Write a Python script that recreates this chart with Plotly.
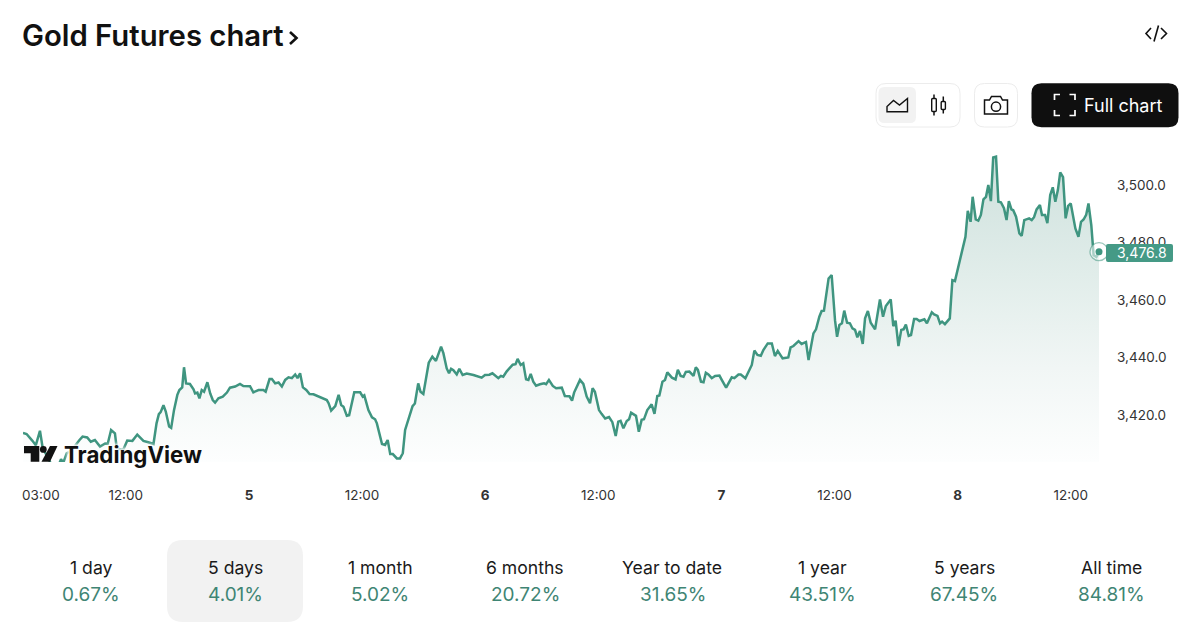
import plotly.graph_objects as go

# ---- data ----
bar_pos = [0,1.4,3.6,5,6.6,7.7,9.2,11.2,12.7,14.8,15.7,17,19,22,23.2,25,26.4,28,30,32,33,34.3,35.8,36.5,39,40.6,42.6,44.5,46.9,48.8,50.8,52,52.9,53.6,54.7,55.6,56.9,57.7,58.8,60.1,60.9,62,62.7,63.5,65,66.4,67,67.9,68.7,69.6,70.5,71.8,72.9,73.9,74.8,76.1,77.8,79.4,80.6,82.6,84.5,85.8,88.4,89.7,91.7,93.6,94.5,96,96.9,98.2,99.5,100.8,102.1,103.4,104.7,106,106.9,107.9,109,110.3,111.6,113.1,115.7,118.3,119,120,121.6,122.9,123.9,124.8,126.1,127,129,130.6,131.3,132.3,132.9,134.5,135.9,137.1,137.8,139.8,141,142,143,144,145.6,146.8,147.9,148.8,150,151.7,152.6,153.9,154.8,155.9,158,159.4,160.8,162.8,163.7,165,165.9,166.7,167.6,168.9,169.9,171.2,172.8,175.4,178.6,179.9,181.6,182.8,185.1,186.1,187,188.3,190.7,191.8,192.6,193.8,194.8,195.9,196.8,197.7,198.7,199.8,201.3,202.9,203.7,204.8,206.3,207.6,209.8,211,212.8,213.8,214.6,216.9,218.2,219.5,220.8,221.8,222.7,224.3,225.3,226.7,228.2,229.5,230.8,231.8,232.7,233.8,235.1,236,236.8,238.7,239.8,240.9,241.8,243.1,244.8,245.9,247,247.8,249,250,250.9,252.7,254.1,255,256.1,257.2,258.1,259.5,261.1,262,262.8,264,265,265.9,266.9,268.2,269.5,271.2,272.1,273.8,276,277,278.6,279.5,281.3,283.8,284.8,286,287.3,288.3,290,291.6,292.8,293.9,295.8,298,298.9,300,302,303.2,304.9,305.9,307.8,308.8,310.1,311,311.9,313.7,314.9,316.2,317,317.9,318.9,319.8,320.9,322,323,324,324.9,325.9,327,327.9,329,330.1,331.8,333.7,334.9,336,337.9,338.9,339.8,340.9,342,342.9,343.8,344.9,345.8,347,348,349.1,351,352,353.9,354.8,356.1,357.1,357.9,359,360.9,361.9,362.9,363.6,365.9,367,367.9,369,369.8,371,372,373,374,375,375.9,376.9,377.8,378.9,379.8,380.8,382,383,383.9,384.9,385.6,386.7,388,388.9,389.9,391.8,392.8,393.7,394.7,396,396.8,398,398.9,400,401,402,403,403.9,405,406,407,408,409.8,411,412,413,414,414.9,416,416.9,418,419]
price = [3413.8,3413.4,3411.1,3409.5,3414.5,3408.4,3406,3402.6,3399.9,3404.6,3403.4,3406.7,3407.8,3411.3,3412.5,3412.2,3410.7,3411.3,3409,3410.1,3410,3414.8,3413.6,3408.4,3407.8,3411.1,3411,3413.2,3411,3410.5,3409.9,3417.1,3420.3,3421,3423.4,3421.2,3416,3415.5,3421.7,3427,3428.7,3429.6,3436.6,3431,3430.8,3428.9,3427.5,3427.8,3425.8,3428.7,3428.1,3431.4,3427.5,3425.2,3424.3,3425.8,3426.4,3427.8,3429.5,3429.9,3430.8,3430.1,3430,3427.9,3428.7,3428.7,3428.1,3432.5,3432.5,3431,3431.3,3429.9,3432.2,3433.1,3432.8,3434.1,3432.8,3434.5,3429.6,3428.7,3427.3,3427.2,3426.1,3425.2,3424.1,3421.5,3423.1,3427,3423.5,3422.9,3419.7,3419.9,3427.9,3427.8,3427.9,3426.4,3426.8,3421.7,3419.2,3418.5,3417.1,3409.9,3409.6,3411.3,3406.4,3406.4,3404.9,3404.9,3406.7,3414.8,3418.3,3423.1,3424,3431,3428.1,3427.3,3438.2,3440.3,3438.8,3443.8,3441.5,3436.2,3434.5,3436.1,3435.6,3434.1,3436.1,3433.9,3434.4,3433.9,3433,3433.9,3434,3434.5,3432.8,3433.6,3433.3,3435.1,3437.5,3437.7,3439.5,3437.4,3438,3432.4,3432.2,3434.3,3431.6,3430.2,3430.7,3431,3430.7,3432.2,3430.1,3429.3,3429.5,3426.6,3426.5,3425,3427.8,3432.2,3430.8,3426.4,3424.1,3429.3,3428.1,3421.7,3420.4,3418.8,3419.3,3417.5,3412.7,3417.7,3418,3415.4,3417.9,3418.5,3420.8,3419.7,3414.2,3418.3,3418.5,3421.7,3423.7,3420.4,3426.6,3426.8,3431.6,3432.2,3434.8,3433,3432.4,3435.7,3433.6,3433.3,3435,3435.1,3433.6,3436.6,3435.7,3431.6,3431.4,3434.7,3434.1,3432.8,3433.6,3433.7,3432.2,3429.5,3433.1,3432.8,3434.1,3434.1,3432.8,3437.4,3442.4,3440.9,3440.6,3442.6,3444.9,3444.9,3440.5,3442.3,3439.7,3440,3443.5,3444,3445.7,3444.7,3445.4,3439.1,3448.4,3449.8,3454.2,3456.2,3456.3,3467.5,3468.7,3453,3447.2,3451.3,3451.9,3456.3,3452.1,3451.9,3450.1,3449.6,3447,3449.2,3444.7,3453.6,3456.2,3452.1,3449.8,3460.2,3454.2,3457.9,3460.2,3450.9,3452.8,3444,3449.6,3449.8,3451.5,3447.5,3447.8,3453.4,3453.4,3452.7,3453.3,3451.9,3455.7,3455,3454.5,3451.9,3452.5,3451.6,3453.6,3466.9,3466.6,3469.3,3477.2,3482,3491,3487.2,3495.9,3488,3487.6,3489.6,3495,3495.9,3500,3494.4,3509.6,3509.9,3494.2,3494,3491.9,3487.8,3494.4,3491.5,3491.2,3489,3483.2,3482.3,3487.8,3488.4,3487.8,3488.8,3491.5,3493,3489.6,3489.6,3486.7,3496.5,3499.2,3494.2,3498.3,3504.4,3502.7,3488.4,3492.7,3493.6,3484.9,3482,3487.2,3488,3489.6,3493.6,3486,3475.6,3475,3476.8]
y_ticks = [3420, 3440, 3460, 3480, 3500]
y_tick_labels = ["3,420.0", "3,440.0", "3,460.0", "3,480.0", "3,500.0"]
x_ticks = [7, 40, 88, 132, 180, 224, 272, 316, 364, 408]
x_tick_labels = ["03:00", "12:00", "<b>5</b>", "12:00", "<b>6</b>", "12:00", "<b>7</b>", "12:00", "<b>8</b>", "12:00"]
last_label = "3,476.8"
periods = ["1 day", "5 days", "1 month", "6 months", "Year to date", "1 year", "5 years", "All time"]
changes = ["0.67%", "4.01%", "5.02%", "20.72%", "31.65%", "43.51%", "67.45%", "84.81%"]

W, H = 1200, 638
FONT = "Inter"
LINE = "#3f9580"
fx = lambda p: p / W
fy = lambda p: 1 - p / H


def P(*pts, close=True):
    s = "M" + " L".join(f"{fx(x):.5f},{fy(y):.5f}" for x, y in pts)
    return s + (" Z" if close else "")


def rrect(x0, y0, x1, y1, r):
    rx, ry = r / W, r / H
    a, b, c, d = fx(x0), fx(x1), fy(y0), fy(y1)
    return (f"M{a+rx:.5f},{c:.5f} L{b-rx:.5f},{c:.5f} Q{b:.5f},{c:.5f} {b:.5f},{c-ry:.5f} "
            f"L{b:.5f},{d+ry:.5f} Q{b:.5f},{d:.5f} {b-rx:.5f},{d:.5f} L{a+rx:.5f},{d:.5f} "
            f"Q{a:.5f},{d:.5f} {a:.5f},{d+ry:.5f} L{a:.5f},{c-ry:.5f} Q{a:.5f},{c:.5f} {a+rx:.5f},{c:.5f} Z")


shapes = []


def path(d, fill="rgba(0,0,0,0)", line=None, width=1.5, layer="above"):
    shapes.append(dict(type="path", xref="paper", yref="paper", path=d, fillcolor=fill,
                       line=dict(color=line or "rgba(0,0,0,0)", width=width if line else 0), layer=layer))


def circle(cx, cy, r, fill="rgba(0,0,0,0)", line=None, width=1.5):
    shapes.append(dict(type="circle", xref="paper", yref="paper", x0=fx(cx - r), x1=fx(cx + r),
                       y0=fy(cy + r), y1=fy(cy - r), fillcolor=fill,
                       line=dict(color=line or "rgba(0,0,0,0)", width=width if line else 0)))


# toolbar
path(rrect(876, 83.5, 960, 127, 10), "#ffffff", "#ececec", 1)
path(rrect(878.5, 87, 916, 123, 6), "#f2f2f2")
path(P((887, 111.7), (887, 106.5), (893.5, 100.5), (899.5, 105), (907.5, 98.5), (907.5, 111.7)), line="#111111", width=1.4)
for x, w0, w1, b0, b1, hw in [(934, 94.5, 115.5, 98.5, 111.5, 2.3), (943.3, 96.5, 113.5, 101.5, 109.5, 2.1)]:
    path(P((x, w0), (x, b0), close=False), line="#111111", width=1.5)
    path(P((x, b1), (x, w1), close=False), line="#111111", width=1.5)
    path(rrect(x - hw, b0, x + hw, b1, 1), line="#111111", width=1.4)
path(rrect(974.5, 83.5, 1017.5, 127, 10), "#ffffff", "#ececec", 1)
path(P((984.5, 100), (989.5, 100), (991.5, 96.5), (1000.5, 96.5), (1002.5, 100), (1007.5, 100), (1007.5, 114), (984.5, 114)), line="#111111", width=1.5)
circle(996, 106.7, 4.6, line="#111111", width=1.5)
path(rrect(1031.5, 83.3, 1178.5, 127.3, 10), "#0f0f0f")
for a, b, c in [((1054.5, 100), (1054.5, 94.5), (1060, 94.5)), ((1069.5, 94.5), (1075, 94.5), (1075, 100)),
                ((1075, 110), (1075, 115.5), (1069.5, 115.5)), ((1060, 115.5), (1054.5, 115.5), (1054.5, 110))]:
    path(P(a, b, c, close=False), line="#ffffff", width=1.7)
# embed icon
path(P((1151, 28), (1146, 33.5), (1151, 39), close=False), line="#111111", width=1.6)
path(P((1161, 28), (1166.5, 33.5), (1161, 39), close=False), line="#111111", width=1.6)
path(P((1158.5, 25.5), (1154, 41.5), close=False), line="#111111", width=1.6)
# title chevron
path(P((290, 32), (296.5, 38), (290, 44), close=False), line="#111111", width=2.6)
# TradingView logo glyph
path(P((24, 446), (39.3, 446), (39.3, 461.7), (30.7, 461.7), (30.7, 453.3), (24, 453.3)), "#111111")
circle(43.3, 449.4, 3.4, "#111111")
path(P((50, 446), (57.5, 446), (50, 461.7), (41.5, 461.7)), "#111111")
# selected period
path(rrect(167, 540, 303, 622, 16), "#f2f2f2", layer="below")
# last-price badge
path(rrect(1106, 244, 1173, 262, 2), "#459a86")

ann = []


def text(x, y, s, size, color="#111111", anchor="center", weight=400, shadow=None):
    f = dict(family=FONT, size=size, color=color, weight=weight)
    if shadow:
        f["shadow"] = shadow
    ann.append(dict(xref="paper", yref="paper", x=fx(x), y=fy(y), text=s, showarrow=False,
                    xanchor=anchor, yanchor="middle", font=f, borderpad=0))


text(21, 35.5, "Gold Futures chart", 29.3, anchor="left", weight=600)
text(1123, 106, "Full chart", 18, "#ffffff", weight=400)
text(63, 454, "TradingView", 22.3, anchor="left", weight=700,
     shadow="0 0 3px #fff, 0 0 3px #fff, 0 0 4px #fff, 0 0 5px #fff, 0 0 6px #fff")
text(1141.5, 252.5, last_label, 14, "#ffffff")
label_x = [91, 235, 380, 525, 672, 822, 964, 1111]
value_x = [90.5, 235, 380, 525, 673, 822, 964, 1111]
for cx, vx, p, c in zip(label_x, value_x, periods, changes):
    text(cx, 567.5, p, 17.6, "#1a1a1a")
    text(vx, 594.5, c, 19, "#3f8574")

top_px, bot_px = 150, 462
val = lambda p: 3500 - (p - 185) / 2.875

fig = go.Figure()
fig.add_trace(go.Scatter(
    x=bar_pos, y=price, mode="lines", line=dict(color=LINE, width=2.5, shape="linear"),
    fill="tozeroy",
    fillgradient=dict(type="vertical", start=val(bot_px), stop=val(top_px),
                      colorscale=[[0, "#fdfefe"], [0.3, "#f1f6f5"], [0.6, "#e1edea"], [1, "#cde0dc"]]),
    hoverinfo="skip", showlegend=False))
fig.add_trace(go.Scatter(
    x=bar_pos[-1:], y=price[-1:], mode="markers", cliponaxis=False,
    marker=dict(size=18, color="rgba(255,255,255,0.55)", line=dict(color="rgba(63,149,128,0.55)", width=1.3)),
    hoverinfo="skip", showlegend=False))
fig.add_trace(go.Scatter(
    x=bar_pos[-1:], y=price[-1:], mode="markers", cliponaxis=False,
    marker=dict(size=7, color=LINE), hoverinfo="skip", showlegend=False))

fig.update_layout(
    width=W, height=H, margin=dict(l=0, r=0, t=0, b=0),
    paper_bgcolor="#ffffff", plot_bgcolor="#ffffff",
    shapes=shapes, annotations=ann, showlegend=False,
    xaxis=dict(domain=[fx(23), fx(1099)], range=[0, 419], showgrid=False, zeroline=False, showline=False,
               tickmode="array", tickvals=x_ticks, ticktext=x_tick_labels, ticks="", ticklabelstandoff=23,
               tickfont=dict(family=FONT, size=13.5, color="#333333"), anchor="y", fixedrange=True),
    yaxis=dict(domain=[fy(bot_px), fy(top_px)], range=[val(bot_px), val(top_px)], side="right",
               showgrid=False, zeroline=False, showline=False, tickmode="array",
               tickvals=y_ticks, ticktext=y_tick_labels, ticks="", ticklabelstandoff=17,
               tickfont=dict(family=FONT, size=13.5, color="#333333"), anchor="x", fixedrange=True),
)
fig.write_html("out.html", config=dict(displayModeBar=False),
               post_script="document.body.style.margin='0';")
